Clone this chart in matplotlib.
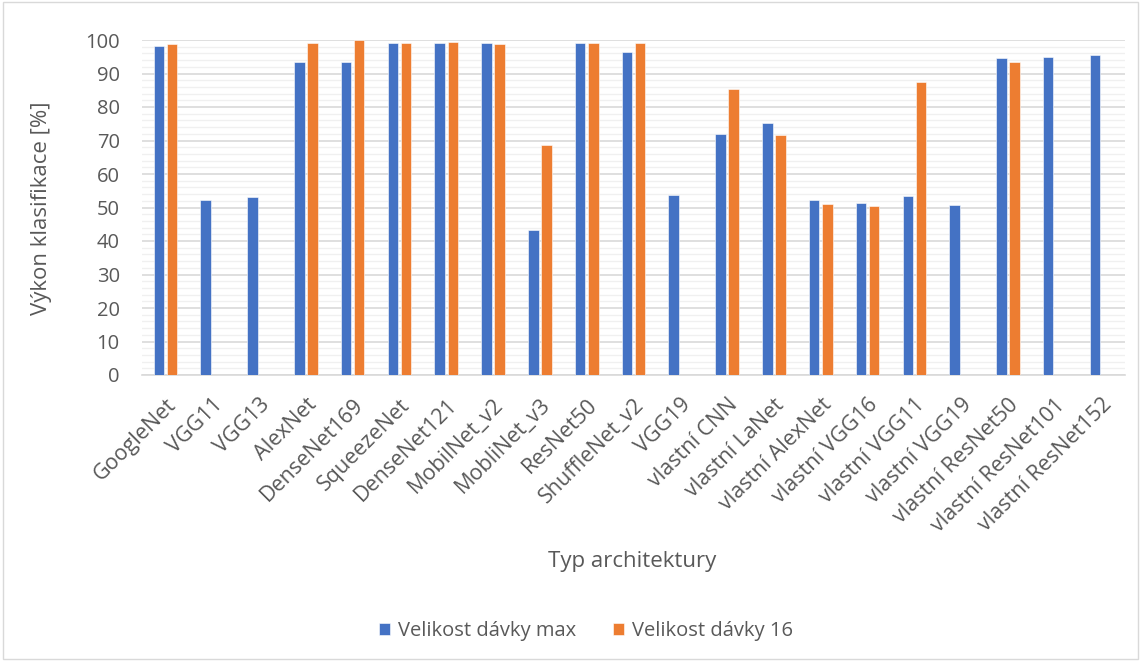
import numpy as np
import matplotlib.pyplot as plt
from matplotlib.patches import Rectangle

plt.rcParams['font.family'] = ['Open Sans', 'DejaVu Sans']

#DATA
categories = [
    "GoogleNet", "VGG11", "VGG13", "AlexNet", "DenseNet169", "SqueezeNet",
    "DenseNet121", "MobilNet_v2", "MobliNet_v3", "ResNet50", "ShuffleNet_v2",
    "VGG19", "vlastní CNN", "vlastní LaNet", "vlastní AlexNet", "vlastní VGG16",
    "vlastní VGG11", "vlastní VGG19", "vlastní ResNet50", "vlastní ResNet101",
    "vlastní ResNet152",
]
batch_max = [98.3, 52.3, 53.2, 93.4, 93.4, 99.1, 99.1, 99.1, 43.4, 99.1, 96.5,
             53.6, 72.0, 75.3, 52.2, 51.4, 53.5, 50.7, 94.6, 94.8, 95.6]
batch_16 = [98.7, np.nan, np.nan, 99.2, 100.0, 99.1, 99.5, 98.8, 68.8, 99.1, 99.1,
            np.nan, 85.4, 71.6, 51.1, 50.3, 87.6, np.nan, 93.4, np.nan, np.nan]
series_names = ["Velikost dávky max", "Velikost dávky 16"]
colors = ["#4472C4", "#ED7D31"]
text_color = "#595959"

#PLOT
W, H = 1141, 661
fig = plt.figure(figsize=(W / 100, H / 100), dpi=100)
ax = fig.add_axes([142 / W, 1 - 375 / H, (1125 - 142) / W, (375 - 40) / H])

x = np.arange(len(categories))
w = 0.225
ax.bar(x - 0.14, batch_max, width=w, color=colors[0], label=series_names[0],
       edgecolor="white", linewidth=0.4, zorder=3)
ax.bar(x + 0.14, batch_16, width=w, color=colors[1], label=series_names[1],
       edgecolor="white", linewidth=0.4, zorder=3)

ax.set_xlim(-0.5, len(categories) - 0.5)
ax.set_ylim(0, 100)
ax.set_yticks(np.arange(0, 101, 10))
ax.set_yticks(np.arange(0, 101, 2), minor=True)
ax.grid(axis="y", which="major", color="#d9d9d9", linewidth=1.2, zorder=0)
ax.grid(axis="y", which="minor", color="#f0f0f0", linewidth=1.0, zorder=0)
ax.tick_params(axis="y", which="both", length=0, labelsize=14.5, labelcolor=text_color, pad=16)
ax.tick_params(axis="x", length=0, labelsize=15.5, labelcolor=text_color, pad=14)
ax.set_xticks(x)
ax.set_xticklabels(categories, rotation=45, ha="right", rotation_mode="anchor")

for side in ["top", "right", "left"]:
    ax.spines[side].set_visible(False)
ax.spines["bottom"].set_color("#d9d9d9")
ax.spines["bottom"].set_linewidth(1.2)

fig.text(42 / W, 1 - 208 / H, "Výkon klasifikace [%]", rotation=90,
         ha="center", va="center", fontsize=16, color=text_color)
fig.text(632 / W, 1 - 561 / H, "Typ architektury",
         ha="center", va="center", fontsize=16, color=text_color)

fig.legend(loc="center", bbox_to_anchor=(586 / W, 1 - 631 / H), ncol=2,
           frameon=False, fontsize=14.5, handlelength=0.55, handleheight=0.55,
           columnspacing=1.8, handletextpad=0.4, labelcolor=text_color)

# light chart border
fig.patches.append(Rectangle((0.003, 0.003), 0.994, 0.994, transform=fig.transFigure,
                             fill=False, edgecolor="#d9d9d9", linewidth=1.0))

plt.savefig("out.png", dpi=100)
